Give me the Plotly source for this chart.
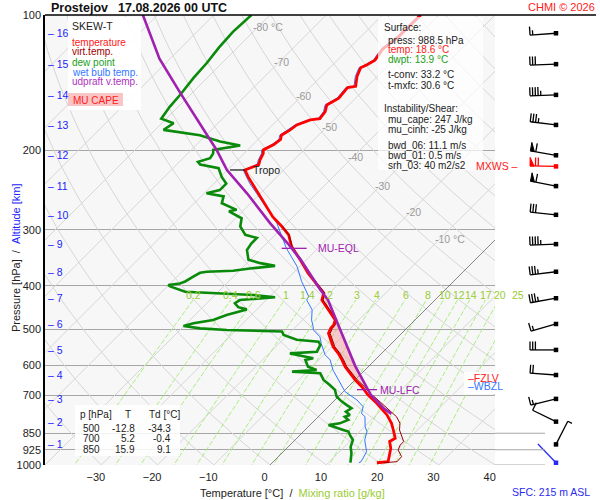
import numpy as np
import plotly.graph_objects as go

# ---------------- values ----------------
station = "Prostejov"
valid_time = "17.08.2026 00 UTC"

temp_p = [988.5, 983, 955, 918, 887, 872, 836, 808, 774, 729, 699, 670, 647, 625, 605, 584, 565, 546, 527, 510,
          497, 488, 476, 452, 430, 415, 388, 375, 350, 327, 308, 295, 281, 267, 253, 237, 229, 221, 218, 215,
          210, 203, 199.5, 194, 189, 185, 180, 175.5, 171, 170, 164, 158.5, 153, 145, 144, 137, 131, 129, 126, 119,
          112, 107, 100]
temp_t = [18.6, 20.4, 19.6, 18.5, 17.1, 17.5, 15.7, 14.2, 11.9, 8.0, 5.0, 2.4, 0.0, -2.1, -4.1, -5.9, -7.7, -9.8, -11.4, -13.0,
          -13.5, -13.6, -14.2, -17.2, -20.1, -21.0, -25.2, -27.3, -31.1, -35.0, -37.6, -40.3, -43.6, -46.5, -49.5, -53.3, -55.1, -56.9, -56.2, -55.4,
          -56.0, -56.6, -57.2, -56.3, -56.0, -56.6, -56.0, -55.7, -54.2, -52.7, -53.0, -53.9, -53.0, -53.3, -52.1, -53.6, -54.5, -53.9, -53.3, -53.9,
          -53.3, -53.3, -53.2]

tv_p = [988.5, 983, 958, 926, 903, 887, 836, 808, 781, 761, 748, 729, 705, 699, 670, 647, 625, 605, 584, 565,
        546, 527, 510, 497, 488, 476, 452, 430, 415, 388, 375, 350, 327, 308, 295]
tv_t = [19.8, 22.0, 21.9, 20.1, 19.6, 19.6, 16.8, 15.7, 13.9, 12.0, 10.8, 8.9, 6.4, 5.6, 2.9, 0.4, -1.8, -3.8, -5.6, -7.4,
        -9.5, -11.1, -12.7, -13.2, -13.3, -13.9, -17.0, -19.9, -20.8, -25.0, -27.1, -31.0, -34.9, -37.5, -40.2]

dew_p = [988.5, 942, 911, 880, 858, 843, 836, 815, 808, 794, 781, 774, 761, 748, 736, 723, 705, 681, 664, 647,
         625, 620, 615, 605, 584, 579, 565, 560, 541, 532, 527, 514, 505, 501, 497, 491, 484, 476, 464, 456,
         451, 446, 437, 430, 426, 424, 419, 414, 412, 401, 398, 395, 391, 381, 374, 372, 370, 366, 361, 356,
         350, 333, 322, 313, 308, 295, 283, 273, 271, 262, 253, 249, 245, 237, 229, 219, 215, 212, 208, 203,
         199.5, 195, 191, 185, 180, 174, 170, 160, 150, 138, 128, 118, 109, 100]
dew_t = [13.9, 12.4, 11.1, 10.3, 8.9, 8.0, 6.8, 3.3, 5.0, 5.9, 4.7, 5.3, 4.0, 4.4, 3.0, 1.5, -0.3, -1.8, -3.6, -5.6,
         -7.4, -12.7, -8.6, -10.7, -12.4, -11.3, -16.3, -11.8, -12.4, -13.3, -17.5, -20.7, -21.6, -31.7, -36.7, -40.1, -38.8, -35.9, -34.4, -32.6,
         -31.8, -33.7, -35.0, -34.7, -31.4, -28.9, -33.2, -43.1, -45.9, -49.5, -50.1, -48.3, -47.7, -47.1, -46.6, -45.6, -41.1, -38.5, -34.5, -37.6,
         -40.3, -42.3, -42.7, -42.7, -45.3, -47.7, -48.9, -52.4, -51.3, -55.1, -56.0, -59.6, -57.8, -57.8, -59.8, -61.9, -65.8, -66.7, -65.2, -65.5,
         -66.1, -62.1, -66.4, -71.1, -78.5, -77.9, -80.9, -81.5, -81.8, -82.4, -82.7, -83.3, -83.6, -83.3]

wb_p = [988.5, 983, 934, 880, 843, 822, 781, 768, 742, 717, 687, 664, 636, 615, 584, 569, 537, 519, 501, 493,
        476, 452, 430, 422, 391, 362, 330, 290, 249, 237, 229, 221, 215, 210, 203, 199.5, 194, 189, 185, 180,
        175.5, 171, 170, 164, 158.5, 153, 145, 144, 137, 131, 129, 126, 119, 112, 107, 100]
wb_t = [15.4, 15.6, 14.8, 12.4, 11.3, 10.1, 8.3, 7.1, 6.2, 3.9, 0.3, -1.5, -3.9, -5.7, -8.0, -9.8, -12.5, -13.9, -16.3, -16.9,
        -18.4, -20.1, -22.8, -23.1, -27.0, -30.5, -35.6, -41.8, -50.7, -53.6, -55.4, -57.2, -55.7, -56.3, -56.9, -57.5, -56.6, -56.3, -56.9, -56.3,
        -56.0, -54.5, -53.0, -53.3, -54.2, -53.3, -53.6, -52.4, -53.9, -54.8, -54.2, -53.6, -54.2, -53.6, -53.6, -53.5]

parcel_p = [770, 748, 699, 681, 602, 499, 430, 408, 350, 322, 290, 249, 221, 199.5, 149, 125, 100]
parcel_t = [12.5, 10.1, 5.5, 4.1, -2.5, -11.7, -19.0, -22.2, -31.0, -36.2, -43.0, -52.4, -60.1, -65.5, -82.1, -91.9, -102.6]

wind_p = [988.5, 900, 801, 713, 631, 555, 486, 426, 372, 323, 278, 240, 205, 175.5, 150.5, 128.6, 109.8]
wind_dir = [316, 27, 296, 256, 274, 270, 254, 260, 263, 268, 276, 281, 280, 277, 268, 268, 266]
wind_kt = [2, 5, 10, 15, 20, 30, 15, 35, 35, 45, 30, 60, 60, 35, 45, 30, 15]
mxws_p, mxws_dir, mxws_kt = 217, 271, 70

alt_km = list(range(1, 17))
alt_p = [900, 801, 713, 631, 555, 486, 426, 372, 323, 278, 240, 205, 175.5, 150.5, 128.6, 109.8]

temp_ticks = [-30, -20, -10, 0, 10, 20, 30, 40]
pres_ticks = [100, 200, 300, 400, 500, 600, 700, 850, 925, 1000]
mix_ratio = [0.2, 0.4, 0.6, 1, 1.4, 2, 3, 4, 6, 8, 10, 12, 14, 17, 20, 25]
mix_label = ["0.2", "0.4", "0.6", "1", "1.4", "2", "3", "4", "6", "8", "10", "12", "14", "17", "20", "25"]
iso_label_t = [-80, -70, -60, -50, -40, -30, -20, -10]
iso_label_p = [106.3, 127.1, 151.5, 177.6, 206.9, 239.9, 273.5, 314.3]

sfc_press, sfc_temp, sfc_dwpt, t_conv, t_mxfc = 988.5, 18.6, 13.9, 33.2, 30.6
mu_cape, mu_cinh, bwd_06, bwd_01, srh_03 = 247, -25, 11.1, 0.5, 40
sfc_alt = 215
table_p = [500, 700, 850]
table_t = [-12.8, 5.2, 15.9]
table_td = [-34.3, -0.4, 9.1]
tropo_p, lfc_p, eql_p, fzlv_p, wbzl_p = 221, 680, 330, 641, 667

# ---------------- geometry helpers ----------------
PX_LN = 450 / np.log(10)   # px per ln(p)
PX_C = 450 / 80            # px per degC
SKEW = PX_LN / PX_C
TICK_SHIFT = -0.95
FONT = "Liberation Sans, Arial, sans-serif"


def sk(t, p):
    return np.asarray(t, float) + SKEW * np.log(1000.0 / np.asarray(p, float))


def interp_lnp(pq, p_arr, t_arr):
    lp = np.log(np.asarray(p_arr, float))[::-1]
    return np.interp(np.log(pq), lp, np.asarray(t_arr, float)[::-1])


def pp(x, y):
    return (x - 45) / 555, (465 - y) / 450


fig = go.Figure()
anns = []
shapes = []


def add_line(x, y, color, width, dash=None, ax=("x", "y"), **kw):
    fig.add_trace(go.Scatter(x=x, y=y, mode="lines", xaxis=ax[0], yaxis=ax[1],
                             line=dict(color=color, width=width, dash=dash),
                             hoverinfo="skip", showlegend=False, **kw))


def txt(x, y, s, size=10, color="#222", anchor="left", **kw):
    xp, yp = pp(x, y)
    anns.append(dict(x=xp, y=yp, xref="paper", yref="paper", text=s, showarrow=False,
                     xanchor=anchor, yanchor="middle", font=dict(size=size, color=color, family=FONT), **kw))


def txt_data(X, p, s, xshift=0, size=10, color="#222", anchor="left"):
    X = float(X)
    if X > 39.99:
        xshift += (X - 39.99) * PX_C
        X = 39.99
    anns.append(dict(x=X, y=np.log10(p), xref="x", yref="y", text=s, showarrow=False,
                     xanchor=anchor, yanchor="middle", xshift=xshift,
                     font=dict(size=size, color=color, family=FONT)))


# ---------------- background lines ----------------
xs, ys = [], []
for t in range(-120, 40, 10):
    if t == 0:
        continue
    xs += [float(sk(t, 1050)), float(sk(t, 100)), None]
    ys += [1050, 100, None]
add_line(xs, ys, "#d6d6d6", 1)

pg = np.exp(np.linspace(np.log(1050), np.log(100), 40))
xs, ys = [], []
for th in range(-40, 190, 10):
    T = (th + 273.15) * (pg / 1000.0) ** 0.2857 - 273.15
    xs += list(sk(T, pg)) + [None]
    ys += list(pg) + [None]
add_line(xs, ys, "#d6d6d6", 1)

pm = np.exp(np.linspace(np.log(1050), np.log(430), 20))
xs, ys = [], []
for w in mix_ratio:
    e = w * pm / (622.0 + w)
    ln = np.log(e / 6.112)
    T = 243.5 * ln / (17.67 - ln)
    xs += list(sk(T, pm)) + [None]
    ys += list(pm) + [None]
add_line(xs, ys, "#a8ee80", 1, dash="5px,2px")
for w, lab in zip(mix_ratio, mix_label):
    e = w * 418 / (622.0 + w)
    ln = np.log(e / 6.112)
    T = 243.5 * ln / (17.67 - ln)
    txt_data(sk(T, 418), 418, lab, xshift=-4 if w < 1 else -2, size=10.5, color="#99cc33", anchor="center")

add_line([float(sk(0, 1050)), float(sk(0, 100))], [1050, 100], "#6a6a6a", 0.8)

for t, p in zip(iso_label_t, iso_label_p):
    lab = f"{t} °C" if t in (-80, -10) else f"{t}"
    txt_data(sk(t, p), p, lab, xshift=-7, size=10.5, color="#9a9a9a")

# ---------------- CAPE area ----------------
pc = np.exp(np.linspace(np.log(700), np.log(335), 80))
par_i = interp_lnp(pc, parcel_p, parcel_t)
tv_i = interp_lnp(pc, tv_p, tv_t)
right = np.maximum(par_i, tv_i)
fig.add_trace(go.Scatter(x=list(sk(right, pc)) + list(sk(tv_i, pc))[::-1], y=list(pc) + list(pc)[::-1],
                         mode="lines", fill="toself", fillcolor="rgba(245,140,140,0.42)",
                         line=dict(width=0), hoverinfo="skip", showlegend=False))

# ---------------- profiles ----------------
add_line(sk(wb_t, wb_p), wb_p, "#3377ff", 1)
add_line(sk(dew_t, dew_p), dew_p, "#0a8a0a", 2.6)
add_line(sk(temp_t, temp_p), temp_p, "#ff0000", 2.8)
add_line(sk(tv_t, tv_p), tv_p, "#990000", 1)
add_line(sk(parcel_t, parcel_p), parcel_p, "#a020b0", 2.6)

# markers: tropopause, LFC, EQL
tX = float(sk(interp_lnp(np.array([tropo_p]), temp_p, temp_t)[0], tropo_p))
add_line([tX - 15 / PX_C, tX], [tropo_p, tropo_p], "#111", 1.2)
txt_data(tX, tropo_p, "Tropo", xshift=6, size=10.5, color="#222")
lX = float(sk(interp_lnp(np.array([lfc_p]), parcel_p, parcel_t)[0], lfc_p))
add_line([lX - 11 / PX_C, lX + 9 / PX_C], [lfc_p, lfc_p], "#a020b0", 1.3)
txt_data(lX, lfc_p, "MU-LFC", xshift=10, size=10.5, color="#a020b0")
eX = float(sk(interp_lnp(np.array([eql_p]), parcel_p, parcel_t)[0], eql_p))
add_line([eX - 10 / PX_C, eX + 15 / PX_C], [eql_p, eql_p], "#a020b0", 1.3)
txt_data(eX, eql_p, "MU-EQL", xshift=24, size=10.5, color="#a020b0")

# ---------------- wind barbs (right panel, px units on x2) ----------------
BX, LS, LF, GAP = 556, 26, 8.5, 2.7


def barb(p0, d, spd, color):
    r = np.radians(d)
    ux, uy = np.sin(r), np.cos(r)
    qx, qy = uy, -ux
    segs = [[(0, 0), (ux * LS, uy * LS)]]
    tris = []
    n50 = int(spd // 50)
    rem = spd - 50 * n50
    n10 = int(rem // 10)
    n5 = int(round((rem - 10 * n10) / 5))
    pos = LS
    for _ in range(n50):
        tris.append([(ux * pos, uy * pos), (ux * pos + qx * LF, uy * pos + qy * LF), (ux * (pos - 4), uy * (pos - 4)), (ux * pos, uy * pos)])
        pos -= 5.5
    for _ in range(n10):
        segs.append([(ux * pos, uy * pos), (ux * pos + qx * LF, uy * pos + qy * LF)])
        pos -= GAP
    if n5:
        segs.append([(ux * pos, uy * pos), (ux * pos + qx * LF * 0.55, uy * pos + qy * LF * 0.55)])

    def cv(pt):
        return BX + pt[0], p0 * np.exp(-pt[1] / PX_LN)
    xs, ys = [], []
    for s in segs:
        for pt in s:
            a, b = cv(pt)
            xs.append(a)
            ys.append(b)
        xs.append(None)
        ys.append(None)
    add_line(xs, ys, color, 1.3, ax=("x2", "y2"))
    for tr in tris:
        c = [cv(pt) for pt in tr]
        fig.add_trace(go.Scatter(x=[a for a, b in c], y=[b for a, b in c], mode="lines", fill="toself",
                                 fillcolor=color, line=dict(color=color, width=1), xaxis="x2", yaxis="y2",
                                 hoverinfo="skip", showlegend=False))


for i, (p, d, s) in enumerate(zip(wind_p, wind_dir, wind_kt)):
    barb(p, d, s, "#2a2af0" if i == 0 else "#000000")
barb(mxws_p, mxws_dir, mxws_kt, "#ff0000")
fig.add_trace(go.Scatter(x=[BX] * (len(wind_p) + 1), y=wind_p + [mxws_p], mode="markers", xaxis="x2", yaxis="y2",
                         marker=dict(symbol="square", size=4.5,
                                     color=["#2a2af0"] + ["#000"] * (len(wind_p) - 1) + ["#ff0000"]),
                         hoverinfo="skip", showlegend=False))
xs, ys = [], []
for p in (850, 925, 1000):
    xs += [495, 545, None]
    ys += [p, p, None]
add_line(xs, ys, "#a6a6a6", 1, ax=("x2", "y2"))

# ---------------- altitude scale ----------------
for k, p in zip(alt_km, alt_p):
    anns.append(dict(x=(46 - 45) / 555, y=np.log10(p), xref="paper", yref="y", text=f"– {k}", showarrow=False,
                     xanchor="left", yanchor="middle", font=dict(size=10.5, color="#2323ff", family=FONT)))

# ---------------- boxes ----------------
def box(x0, y0, x1, y1, fill, layer="above"):
    a, b = pp(x0, y1)
    c, d = pp(x1, y0)
    shapes.append(dict(type="rect", xref="paper", yref="paper", x0=a, y0=b, x1=c, y1=d,
                       fillcolor=fill, line=dict(width=0), layer=layer))


box(45, 15, 495, 465, "#f7f7f7", layer="below")
box(68, 17, 141, 110, "rgba(255,255,255,0.92)")
box(68, 93, 123, 106, "#f8c4c4")
box(378, 17, 483, 170, "rgba(255,255,255,0.7)")
box(75, 405, 180, 456, "rgba(255,255,255,0.85)")
box(464, 372, 508, 394, "rgba(255,255,255,0.9)")
a, b = pp(45, 15)
c, _ = pp(596, 15)
shapes.append(dict(type="line", xref="paper", yref="paper", x0=a, x1=c, y0=b, y1=b, line=dict(color="black", width=1.5)))

# legend
txt(70, 26, "SKEW-T", size=10.5, color="#222")
txt(70, 42, "temperature", color="#ff2020")
txt(70, 52, "virt.temp.", color="#a00000")
txt(70, 62, "dew point", color="#20a020")
txt(70, 72, "wet bulb temp.", color="#3377ff")
txt(70, 82, "udpraft v.temp.", color="#b030c0")
txt(95.5, 100, "MU CAPE", color="#ff2020", anchor="center")

# surface / instability info
info = [(382, 28, "Surface:", "#222"),
        (386, 40, f"press: {sfc_press} hPa", "#222"),
        (386, 50, f"temp: {sfc_temp} °C", "#ff2020"),
        (386, 60, f"dwpt: {sfc_dwpt} °C", "#20a020"),
        (386, 75, f"t-conv: {t_conv} °C", "#222"),
        (386, 85, f"t-mxfc: {t_mxfc} °C", "#222"),
        (382, 108, "Instability/Shear:", "#222"),
        (386, 119, f"mu_cape: {mu_cape} J/kg", "#222"),
        (386, 129, f"mu_cinh: {mu_cinh} J/kg", "#222"),
        (386, 145, f"bwd_06: {bwd_06} m/s", "#222"),
        (386, 155, f"bwd_01: {bwd_01} m/s", "#222"),
        (386, 165, f"srh_03: {srh_03} m2/s2", "#222")]
for x, y, s, c in info:
    txt(x, y, s, color=c)

# table
txt(78, 414, "p [hPa]")
txt(128, 414, "T", anchor="center")
txt(147, 414, "Td [°C]")
for i, (p, t, td) in enumerate(zip(table_p, table_t, table_td)):
    y = [428, 438, 449][i]
    txt(102, y, f"{p}", anchor="right")
    txt(137, y, f"{t:.1f}", anchor="right")
    txt(173, y, f"{td:.1f}", anchor="right")

# level labels
anns.append(dict(x=(466 - 45) / 555, y=np.log10(fzlv_p), xref="paper", yref="y", text="–FZLV", showarrow=False,
                 xanchor="left", yanchor="middle", font=dict(size=10.5, color="#ff2020", family=FONT)))
anns.append(dict(x=(466 - 45) / 555, y=np.log10(wbzl_p), xref="paper", yref="y", text="–WBZL", showarrow=False,
                 xanchor="left", yanchor="middle", font=dict(size=10.5, color="#3377ff", family=FONT)))
anns.append(dict(x=(520 - 45) / 555, y=np.log10(mxws_p), xref="paper", yref="y", text="MXWS –", showarrow=False,
                 xanchor="right", yanchor="middle", font=dict(size=10.5, color="#ff2020", family=FONT)))

# titles
txt(49, 8, f"<b>{station}</b>", size=12.5, color="#111")
txt(116, 8, f"<b>{valid_time}</b>", size=12.5, color="#111")
txt(597, 7, "CHMI © 2026", size=11, color="#ff2020", anchor="right")
txt(292, 493, 'Temperature [°C]&nbsp;&nbsp;/&nbsp;&nbsp;<span style="color:#99cc33">Mixing ratio [g/kg]</span>',
    size=11, color="#222", anchor="center")
txt(551, 492, f"SFC: {sfc_alt} m ASL", size=10.5, color="#2a2af0", anchor="center")
xp, yp = pp(16, 258)
anns.append(dict(x=xp, y=yp, xref="paper", yref="paper", textangle=-90, showarrow=False,
                 text='Pressure [hPa]&nbsp;&nbsp;/&nbsp;&nbsp;<span style="color:#2323ff">Altitude [km]</span>',
                 xanchor="center", yanchor="middle", font=dict(size=11, color="#222", family=FONT)))

fig.update_layout(
    width=600, height=500,
    margin=dict(l=45, r=0, t=15, b=35),
    paper_bgcolor="white", plot_bgcolor="white",
    font=dict(family=FONT, size=10, color="#222"),
    showlegend=False,
    xaxis=dict(domain=[0, 450 / 555], range=[-40, 40],
               tickvals=[t + TICK_SHIFT for t in temp_ticks],
               ticktext=[str(t).replace("-", "\u2212") for t in temp_ticks],
               showgrid=False, zeroline=False, showline=False, ticks="", ticklabelstandoff=4,
               tickfont=dict(size=11, color="#222"), fixedrange=True),
    yaxis=dict(type="log", range=[3, 2], tickvals=pres_ticks, ticktext=[str(p) for p in pres_ticks],
               showgrid=True, gridcolor="#a6a6a6", gridwidth=1, zeroline=False,
               showline=True, linecolor="black", linewidth=1.5, ticks="",
               tickfont=dict(size=11, color="#222"), fixedrange=True),
    xaxis2=dict(domain=[450 / 555, 1], range=[495, 600], visible=False, anchor="y2"),
    yaxis2=dict(type="log", range=[3, 2], visible=False, anchor="x2", domain=[0, 1]),
    annotations=anns,
    shapes=shapes,
)

fig.write_html("out.html", config={"displayModeBar": False},
               post_script="document.body.style.margin='0';document.documentElement.style.overflow='hidden';")
